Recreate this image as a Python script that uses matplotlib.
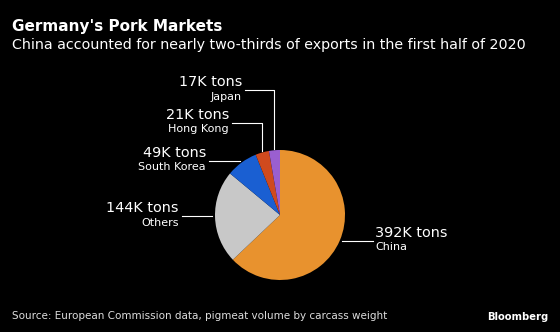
import matplotlib.pyplot as plt
import numpy as np

# data (thousand tons, first half of 2020)
countries = ["China", "Others", "South Korea", "Hong Kong", "Japan"]
values = [392, 144, 49, 21, 17]
value_labels = ["392K tons", "144K tons", "49K tons", "21K tons", "17K tons"]
colors = ["#e8922e", "#c8c8c8", "#1a5fd2", "#d04a1e", "#9a5fd0"]

W, H = 560, 332
fig = plt.figure(figsize=(W / 100, H / 100), dpi=100, facecolor="black")
ax = fig.add_axes([0, 0, 1, 1])
ax.set_facecolor("black")

cx, cy, r = 280, H - 215, 65
wedges, _ = ax.pie(values, colors=colors, startangle=90, counterclock=False,
                   center=(cx, cy), radius=r,
                   wedgeprops=dict(linewidth=0))
ax.set_xlim(0, W)
ax.set_ylim(0, H)
ax.set_aspect("equal")
ax.axis("off")

# label layout: (text x, text y of big line, align, leader style, corner y)
layout = {
    "China": (375, 233, "left", "h", None),
    "Others": (179, 208, "right", "h", None),
    "South Korea": (206, 153, "right", "h", None),
    "Hong Kong": (229, 115, "right", "v", 123),
    "Japan": (242, 82, "right", "v", 90),
}

for w, name, lab in zip(wedges, countries, value_labels):
    tx, ty, ha, style, corner = layout[name]
    mid = np.radians((w.theta1 + w.theta2) / 2)
    px = cx + r * np.cos(mid)
    py = cy + r * np.sin(mid)
    ax.text(tx, H - ty, lab, color="white", fontsize=10.4, ha=ha, va="center")
    ax.text(tx, H - ty - 14.5, name, color="white", fontsize=8, ha=ha, va="center")
    line_y = H - ty - 8
    if style == "h":
        ex = cx + (r + 3) * np.cos(mid)
        if ha == "left":
            ax.plot([ex, tx - 2], [line_y, line_y], color="white", lw=0.8)
        else:
            ax.plot([tx + 3, ex], [line_y, line_y], color="white", lw=0.8)
    else:
        ax.plot([tx + 3, px, px], [H - corner, H - corner, py + 1],
                color="white", lw=0.8)

fig.text(12 / W, 1 - 27 / H, "Germany's Pork Markets", color="white",
         fontsize=11, fontweight="bold", va="center")
fig.text(12 / W, 1 - 45 / H,
         "China accounted for nearly two-thirds of exports in the first half of 2020",
         color="white", fontsize=10.3, va="center")
fig.text(12 / W, 1 - 316 / H,
         "Source: European Commission data, pigmeat volume by carcass weight",
         color="#dddddd", fontsize=7.5, va="center")
fig.text(548 / W, 1 - 317 / H, "Bloomberg", color="white", fontsize=7.2,
         fontweight="bold", ha="right", va="center")

fig.savefig("out.png", dpi=100, facecolor="black")
